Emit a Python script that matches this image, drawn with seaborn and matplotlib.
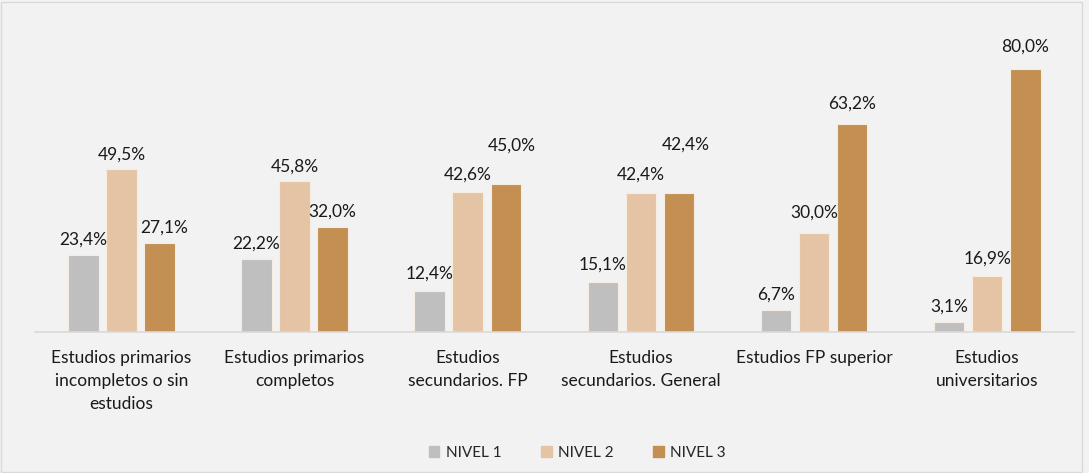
import pandas as pd
import seaborn as sns
import matplotlib.pyplot as plt
from matplotlib.patches import Rectangle

categorias = ["Estudios primarios\nincompletos o sin\nestudios",
              "Estudios primarios\ncompletos",
              "Estudios\nsecundarios. FP",
              "Estudios\nsecundarios. General",
              "Estudios FP superior",
              "Estudios\nuniversitarios"]
niveles = ["NIVEL 1", "NIVEL 2", "NIVEL 3"]
nivel1 = [23.4, 22.2, 12.4, 15.1, 6.7, 3.1]
nivel2 = [49.5, 45.8, 42.6, 42.4, 30.0, 16.9]
nivel3 = [27.1, 32.0, 45.0, 42.4, 63.2, 80.0]

# label nudges (points), as placed in the original chart
lift_y = [[0, 0, 2, 2, 0, 0],
          [0, 0, 2, 2, 4, 2],
          [0, 0, 17, 24, 4, 5]]
shift_x = [[0, 0, 0, 0, 0, 0],
           [0, 0, 0, 0, 0, 0],
           [3, 0, 4, 5, 0, 0]]

pal = ["#bfbfbf", "#e4c4a4", "#c38f52"]
bg = "#f2f2f2"

sns.set_theme(style='white')
plt.rcParams['font.family'] = ['Lato', 'DejaVu Sans']

df = pd.DataFrame({
    'categoria': categorias * 3,
    'nivel': [n for n in niveles for _ in categorias],
    'valor': nivel1 + nivel2 + nivel3,
})

fig = plt.figure(figsize=(10.89, 4.73), dpi=100, facecolor=bg)
ax = fig.add_axes([0.032, 0.298, 0.954, 0.626])
ax.set_facecolor(bg)

sns.barplot(data=df, x='categoria', y='valor', hue='nivel', palette=pal,
            saturation=1, width=0.66, gap=0.2, edgecolor='#f7ece0', linewidth=0.8,
            ax=ax, legend=False)

for cont, dys, dxs in zip(ax.containers, lift_y, shift_x):
    for bar, v, dy, dx in zip(cont, cont.datavalues, dys, dxs):
        ax.annotate(f"{v:.1f}%".replace('.', ','),
                    (bar.get_x() + bar.get_width() / 2, bar.get_height()),
                    xytext=(dx, 5 + dy), textcoords='offset points',
                    ha='center', va='bottom', fontsize=12.5, color='#1a1a1a')

ax.set_ylim(0, 90)
ax.set_xlim(-0.5, 5.5)
ax.set_xlabel('')
ax.set_ylabel('')
ax.set_yticks([])
for s in ['top', 'left', 'right']:
    ax.spines[s].set_visible(False)
ax.spines['bottom'].set_color('#d9d9d9')
ax.spines['bottom'].set_linewidth(1.2)
ax.tick_params(axis='x', length=0, pad=13, labelsize=12.5, labelcolor='#1a1a1a')
for t in ax.get_xticklabels():
    t.set_linespacing(1.55)

handles = [Rectangle((0, 0), 1, 1, color=c) for c in pal]
fig.legend(handles, niveles, loc='center', bbox_to_anchor=(0.53, 0.042), ncol=3,
           frameon=False, fontsize=11, handlelength=0.7, handleheight=0.7,
           handletextpad=0.4, columnspacing=2.6)

fig.add_artist(Rectangle((0.001, 0.002), 0.993, 0.994, transform=fig.transFigure,
                         fill=False, edgecolor='#d9d9d9', linewidth=1))

plt.savefig('out.png', dpi=100, facecolor=bg)
